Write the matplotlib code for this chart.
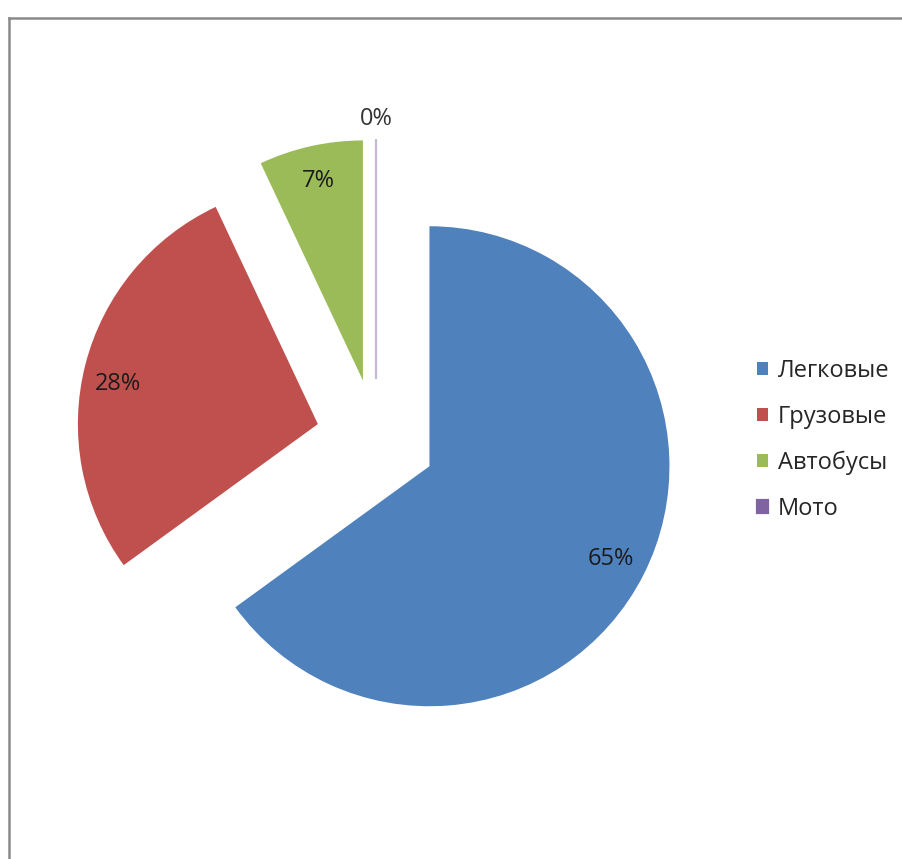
import matplotlib
matplotlib.use('Agg')
import matplotlib.pyplot as plt
from matplotlib.lines import Line2D
import numpy as np

plt.rcParams['font.family'] = ['Open Sans', 'DejaVu Sans']

# vehicle fleet shares, percent
categories = ['Легковые', 'Грузовые', 'Автобусы', 'Мото']
shares = [65, 28, 7, 0]
colors = ['#4F81BD', '#C0504D', '#9BBB59', '#8064A2']

W, H = 903, 859
R_PX = 240.0            # pie radius in pixels
CX, CY = 376.0, 439.0   # pie centre, pixels from top-left

fig = plt.figure(figsize=(W / 100, H / 100), dpi=100)
ax = fig.add_axes([0, 0, 1, 1])

wedges, texts, autotexts = ax.pie(
    shares, colors=colors, startangle=90, counterclock=False,
    explode=[0.25] * len(shares), radius=1.0, center=(0, 0),
    autopct='%1.0f%%', pctdistance=0.85,
    wedgeprops=dict(linewidth=0),
    textprops=dict(fontsize=17, color='#1b1b1b'))

# pie() resets limits and aspect, so set the pixel scale afterwards
ax.set_aspect('auto')
ax.set_xlim(-CX / R_PX, (W - CX) / R_PX)
ax.set_ylim(-(H - CY) / R_PX, CY / R_PX)
ax.axis('off')

# zero-width slices get a thin edge and an outside label
theta = 90.0
for w, t, v in zip(wedges, autotexts, shares):
    mid = np.deg2rad(theta - v * 3.6 / 2)
    theta -= v * 3.6
    if v == 0:
        w.set_edgecolor('#8064A2')
        w.set_linewidth(1.6)
        w.set_alpha(0.45)
        t.set_position((0.25 * np.cos(mid) + 1.085 * np.cos(mid),
                        0.25 * np.sin(mid) + 1.085 * np.sin(mid)))
        t.set_color('#333333')
    elif v == 28:
        # Excel's best-fit puts this label a little lower on the arc
        a = mid + np.deg2rad(3)
        t.set_position((0.25 * np.cos(mid) + 0.85 * np.cos(a),
                        0.25 * np.sin(mid) + 0.85 * np.sin(a)))

leg = ax.legend(wedges, categories, loc='upper left',
                bbox_to_anchor=(757 / W, 1 - 359 / H),
                bbox_transform=fig.transFigure, frameon=False,
                fontsize=17, handlelength=0.47, handleheight=0.47,
                handletextpad=0.42, labelspacing=0.92,
                borderpad=0, borderaxespad=0)
for txt in leg.get_texts():
    txt.set_color('#262626')
for h in leg.legend_handles:
    h.set_alpha(1)

# chart area border (runs off the right and bottom edges)
fx0, fy0 = 8.5 / W, 1 - 17.5 / H
fig.add_artist(Line2D([fx0, fx0], [0, fy0], transform=fig.transFigure,
                      color='#8a8a8a', linewidth=1.8))
fig.add_artist(Line2D([fx0, 1], [fy0, fy0], transform=fig.transFigure,
                      color='#8a8a8a', linewidth=1.8))

fig.savefig('out.png', dpi=100, facecolor='white')
